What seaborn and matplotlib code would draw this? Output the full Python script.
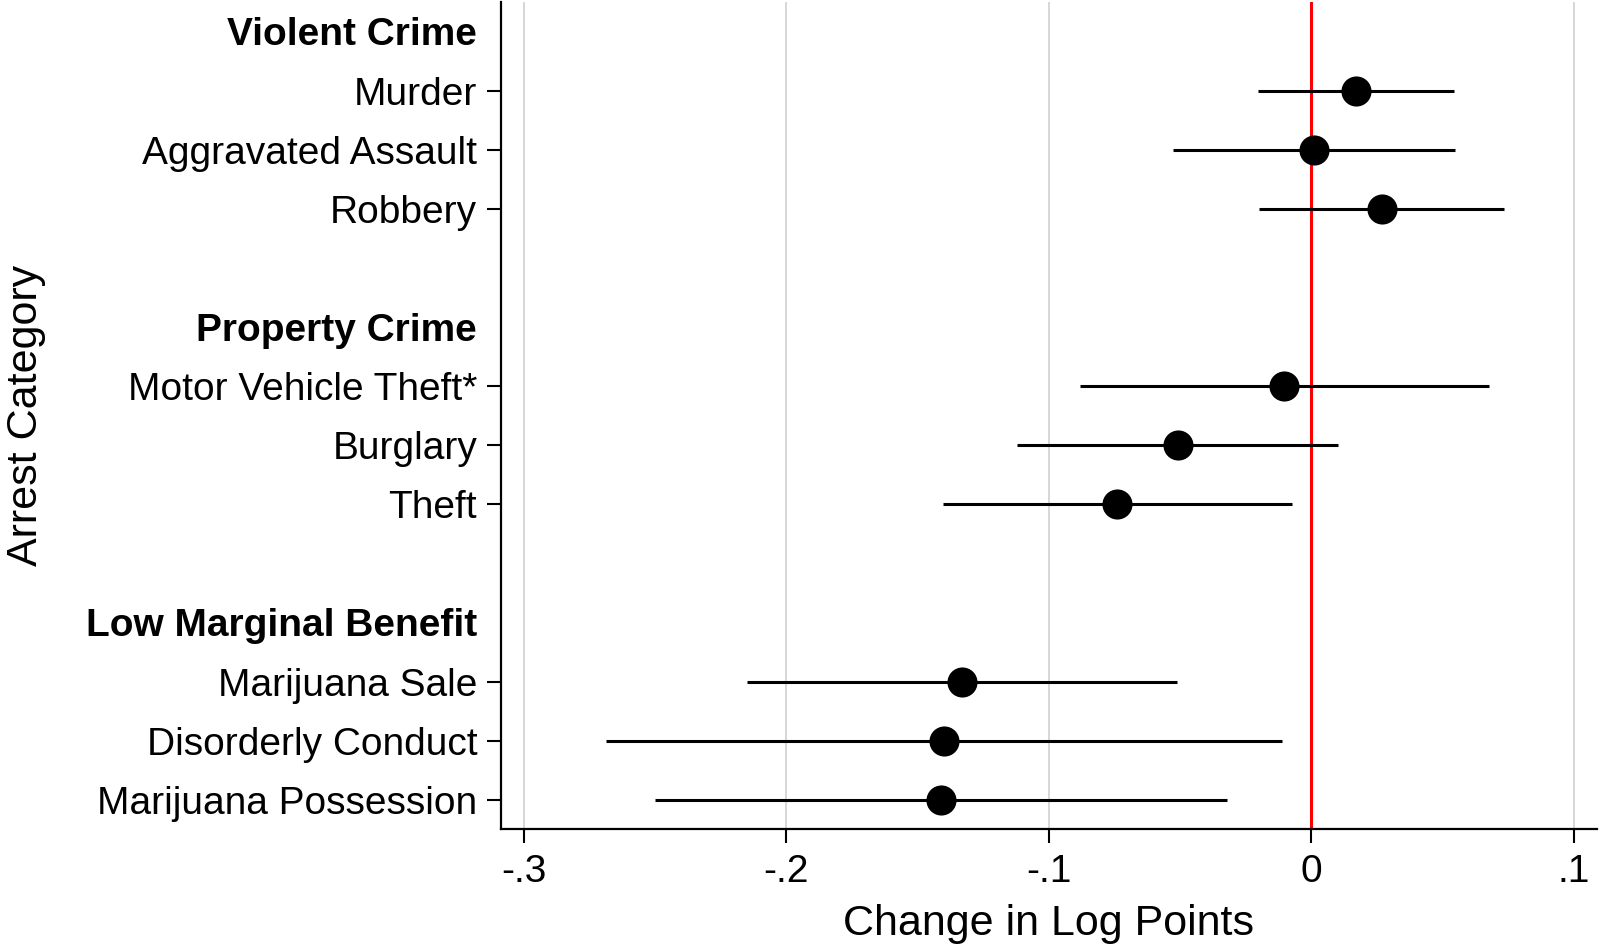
import numpy as np
import pandas as pd
import seaborn as sns
import matplotlib
matplotlib.use("Agg")
import matplotlib.pyplot as plt

# row labels (top to bottom), headings in bold, blank rows as spacers
row_labels = ["Violent Crime", "Murder", "Aggravated Assault", "Robbery", "",
              "Property Crime", "Motor Vehicle Theft*", "Burglary", "Theft", "",
              "Low Marginal Benefit", "Marijuana Sale", "Disorderly Conduct",
              "Marijuana Possession"]
headings = ["Violent Crime", "Property Crime", "Low Marginal Benefit"]

# estimates and confidence intervals
categories = ["Murder", "Aggravated Assault", "Robbery",
              "Motor Vehicle Theft*", "Burglary", "Theft",
              "Marijuana Sale", "Disorderly Conduct", "Marijuana Possession"]
estimates = [0.0171, 0.0009, 0.0267, -0.0105, -0.0510, -0.0741, -0.1331, -0.1401, -0.1412]
ci_low = [-0.0202, -0.0527, -0.0200, -0.0883, -0.1121, -0.1405, -0.2149, -0.2688, -0.2499]
ci_high = [0.0543, 0.0547, 0.0733, 0.0675, 0.0103, -0.0074, -0.0512, -0.0112, -0.0323]

x_ticks = [-0.3, -0.2, -0.1, 0.0, 0.1]
x_tick_labels = ["-.3", "-.2", "-.1", "0", ".1"]

df = pd.DataFrame({"category": categories, "est": estimates,
                   "lo": ci_low, "hi": ci_high})
df["pos"] = [row_labels.index(c) for c in categories]

sns.set_style("white")
plt.rcParams["font.family"] = ["Liberation Sans", "DejaVu Sans"]
plt.rcParams["text.color"] = "black"
plt.rcParams["axes.labelcolor"] = "black"
plt.rcParams["xtick.color"] = "black"
plt.rcParams["ytick.color"] = "black"

fig, ax = plt.subplots(figsize=(16, 9.51), dpi=100)
fig.subplots_adjust(left=0.313, right=0.998, bottom=0.128, top=0.998)

# vertical grid
for xt in x_ticks:
    ax.axvline(xt, color="#d4d4d4", lw=1.3, zorder=0)
ax.axvline(0, color="#ff0000", lw=2.2, zorder=1)

# CI lines
ax.hlines(df["pos"], df["lo"], df["hi"], color="black", lw=2.2, zorder=2)
# point estimates
sns.scatterplot(data=df, x="est", y="pos", s=470, color="black",
                edgecolor="black", linewidth=0, zorder=3, ax=ax, legend=False)

ax.set_xlim(-0.3088, 0.1087)
ax.set_ylim(13.5, -0.5)

ax.set_yticks(range(len(row_labels)))
ax.set_yticklabels(row_labels, fontsize=28)
for i, t in enumerate(ax.get_yticklabels()):
    if row_labels[i] in headings:
        t.set_fontweight("bold")

ax.set_xticks(x_ticks)
ax.set_xticklabels(x_tick_labels, fontsize=28)
ax.tick_params(axis="both", which="major", length=10, width=1.5,
               color="black", direction="out", pad=7,
               bottom=True, left=True)
ax.tick_params(axis="x", pad=8)
for i, tk in enumerate(ax.yaxis.get_major_ticks()):
    if row_labels[i] in headings or row_labels[i] == "":
        tk.tick1line.set_visible(False)

for s in ["top", "right"]:
    ax.spines[s].set_visible(False)
for s in ["left", "bottom"]:
    ax.spines[s].set_color("black")
    ax.spines[s].set_linewidth(1.6)

ax.set_xlabel("Change in Log Points", fontsize=31, labelpad=10)
ax.set_ylabel("Arrest Category", fontsize=31, labelpad=0)
ax.yaxis.set_label_coords(-0.415, 0.5)

fig.savefig("out.png", dpi=100)
